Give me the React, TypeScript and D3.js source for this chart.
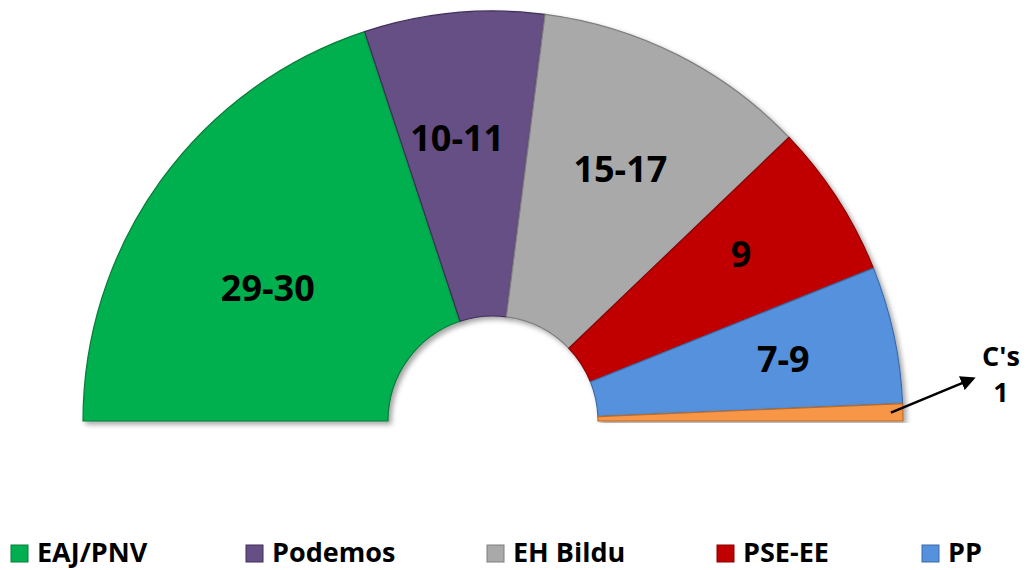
import React from "react";
import * as d3 from "d3";

const parties = ["EAJ/PNV", "Podemos", "EH Bildu", "PSE-EE", "PP", "C's"];
const seats = [29.5, 10.5, 16, 9, 8, 1];
const seatLabels = ["29-30", "10-11", "15-17", "9", "7-9", "1"];
const colors = ["#00B050", "#654F84", "#A9A9A9", "#C00000", "#5591DC", "#F79646"];
const strokes = ["#0B7A3A", "#3F2F58", "#7F7F7F", "#8A0000", "#3C6BA5", "#B86A2A"];
const legendParties = ["EAJ/PNV", "Podemos", "EH Bildu", "PSE-EE", "PP"];

const W = 1027;
const H = 570;
const cx = 493;
const cy = 421;
const outerR = 410;
const innerR = 105;

export default function App() {
  const pie = d3
    .pie<number>()
    .value((d) => d)
    .sort(null)
    .startAngle(-Math.PI / 2)
    .endAngle(Math.PI / 2);
  const arcs = pie(seats);
  const arc = d3.arc<d3.PieArcDatum<number>>().innerRadius(innerR).outerRadius(outerR);

  const labelR = [262, 286, 283, 299, 297];
  const labelShift = [-0.09, -0.03, 0, -0.02, 0];
  const font = "'Open Sans', sans-serif";

  const legendX = [11, 246, 487, 717, 922];

  return (
    <svg width={W} height={H} style={{ position: "absolute", left: 0, top: 0 }}>
      <defs>
        <filter id="shadow" x="-10%" y="-10%" width="120%" height="120%">
          <feDropShadow dx="3" dy="3" stdDeviation="2.5" floodColor="#000" floodOpacity="0.35" />
        </filter>
        <marker id="arrow" viewBox="0 0 10 10" refX="8" refY="5" markerWidth="6" markerHeight="6" orient="auto">
          <path d="M0,0 L10,5 L0,10 z" fill="#000" />
        </marker>
      </defs>
      <rect width={W} height={H} fill="#fff" />
      <g transform={`translate(${cx},${cy})`}>
        {arcs.map((a, i) => (
          <path
            key={parties[i]}
            d={arc(a) || ""}
            fill={colors[i]}
            stroke={strokes[i]}
            strokeWidth={1.2}
            filter="url(#shadow)"
          />
        ))}
        {arcs.slice(0, 5).map((a, i) => {
          const mid = (a.startAngle + a.endAngle) / 2 + labelShift[i];
          const x = Math.sin(mid) * labelR[i];
          const y = -Math.cos(mid) * labelR[i];
          return (
            <text
              key={"l" + i}
              x={x}
              y={y}
              textAnchor="middle"
              dominantBaseline="central"
              fontFamily={font}
              fontWeight={700}
              fontSize={36}
              fill="#000"
            >
              {seatLabels[i]}
            </text>
          );
        })}
        {(() => {
          const a = arcs[5];
          const mid = (a.startAngle + a.endAngle) / 2;
          const r0 = outerR - 12;
          const x0 = Math.sin(mid) * r0;
          const y0 = -Math.cos(mid) * r0;
          return (
            <g>
              <line
                x1={x0}
                y1={y0}
                x2={x0 + 82}
                y2={y0 - 34}
                stroke="#000"
                strokeWidth={2.5}
                markerEnd="url(#arrow)"
              />
              <text x={x0 + 110} y={y0 - 47} textAnchor="middle" fontFamily={font} fontWeight={700} fontSize={27}>
                {parties[5]}
              </text>
              <text x={x0 + 110} y={y0 - 11} textAnchor="middle" fontFamily={font} fontWeight={700} fontSize={27}>
                {seatLabels[5]}
              </text>
            </g>
          );
        })()}
      </g>
      <g>
        {legendParties.map((p, i) => (
          <g key={p} transform={`translate(${legendX[i]},545)`}>
            <rect x={0} y={0} width={17} height={17} fill={colors[i]} stroke={strokes[i]} strokeWidth={1} />
            <text x={26} y={17} fontFamily={font} fontWeight={700} fontSize={27} fill="#000">
              {p}
            </text>
          </g>
        ))}
      </g>
    </svg>
  );
}
